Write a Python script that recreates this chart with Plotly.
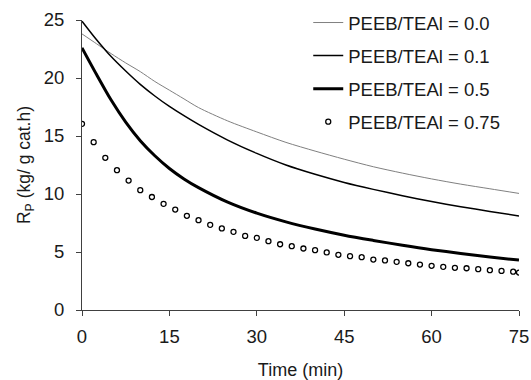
import plotly.graph_objects as go

# ---- data ----
t_lines = [0, 2.5, 5, 7.5, 10, 12.5, 15, 17.5, 20, 25, 30, 35, 40, 45, 50, 55, 60, 65, 70, 75]
r_00 = [23.8, 22.95, 22.1, 21.3, 20.55, 19.7, 18.95, 18.2, 17.45, 16.3, 15.35, 14.45, 13.7, 13.0, 12.35, 11.8, 11.3, 10.85, 10.45, 10.05]
r_01 = [24.9, 23.3, 21.85, 20.6, 19.45, 18.45, 17.55, 16.75, 16.0, 14.65, 13.5, 12.5, 11.7, 11.0, 10.4, 9.85, 9.35, 8.9, 8.5, 8.1]
r_05 = [22.6, 20.3, 18.1, 16.2, 14.6, 13.3, 12.2, 11.3, 10.55, 9.3, 8.35, 7.6, 6.98, 6.45, 6.0, 5.58, 5.2, 4.88, 4.57, 4.3]

t_dots = [0, 2, 4, 6, 8, 10, 12, 14, 16, 18, 20, 22, 24, 26, 28, 30, 32, 34, 36, 38,
          40, 42, 44, 46, 48, 50, 52, 54, 56, 58, 60, 62, 64, 66, 68, 70, 72, 74, 75]
r_075 = [16.05, 14.47, 13.12, 12.05, 11.16, 10.33, 9.74, 9.15, 8.66, 8.12, 7.74, 7.34, 7.03, 6.74, 6.39, 6.22,
         5.93, 5.67, 5.5, 5.3, 5.16, 4.96, 4.76, 4.64, 4.55, 4.35, 4.27, 4.15, 4.03, 3.92, 3.81, 3.72,
         3.64, 3.6, 3.52, 3.43, 3.37, 3.3, 3.23]

names = ["PEEB/TEAl = 0.0", "PEEB/TEAl = 0.1", "PEEB/TEAl = 0.5", "PEEB/TEAl = 0.75"]
x_ticks = [0, 15, 30, 45, 60, 75]
y_ticks = [0, 5, 10, 15, 20, 25]

FONT = "Liberation Sans, Arial, sans-serif"
AX = "#404040"
TXT = "#1a1a1a"

fig = go.Figure()
fig.add_trace(go.Scatter(x=t_lines, y=r_00, mode="lines", name=names[0], legendgroup="a",
                         line=dict(color="#808080", width=1, shape="spline", smoothing=0.8)))
fig.add_trace(go.Scatter(x=t_lines, y=r_01, mode="lines", name=names[1], legendgroup="b",
                         line=dict(color="black", width=1.5, shape="spline", smoothing=0.8)))
fig.add_trace(go.Scatter(x=t_lines, y=r_05, mode="lines", name=names[2], legendgroup="c",
                         line=dict(color="black", width=3, shape="spline", smoothing=0.8)))
fig.add_trace(go.Scatter(x=t_dots, y=r_075, mode="markers", name=names[3], legendgroup="d",
                         marker=dict(symbol="circle-open", size=5, color="black", line=dict(width=1.3))))

axis_common = dict(showgrid=False, zeroline=False, showline=True, linecolor=AX, linewidth=1,
                   tickcolor=AX, ticklen=5, tickwidth=1, automargin=False)

ML, MR, MT, MB = 81.5, 12, 20, 70
plot_w = 531 - ML - MR
plot_h = 380 - MT - MB

fig.update_layout(
    width=531, height=380,
    margin=dict(l=ML, r=MR, t=MT, b=MB, autoexpand=False),
    paper_bgcolor="white", plot_bgcolor="white",
    font=dict(family=FONT, size=17, color=TXT),
    showlegend=True,
    legend=dict(x=(308 - ML) / plot_w, y=1 + 16 / plot_h, yanchor="top",
                font=dict(size=18.5, color=TXT),
                bgcolor="rgba(0,0,0,0)", traceorder="grouped", tracegroupgap=6,
                itemwidth=30),
    xaxis=dict(range=[0, 75], tickvals=x_ticks, ticks="outside",
               title=dict(text="Time (min)", font=dict(size=18), standoff=22),
               ticklabelstandoff=5, tickfont=dict(size=18.5), **axis_common),
    yaxis=dict(range=[0, 25], tickvals=y_ticks, ticks="outside",
               title=dict(text="R<sub>P</sub> (kg/ g cat.h)", font=dict(size=17.5), standoff=8),
               ticklabelstandoff=8, tickfont=dict(size=18.5), **axis_common),
    xaxis2=dict(range=[0, 75], tickvals=x_ticks, ticks="inside", overlaying="x", anchor="y",
                showticklabels=False, **axis_common),
    yaxis2=dict(range=[0, 25], tickvals=y_ticks, ticks="inside", overlaying="y", anchor="x",
                showticklabels=False, **axis_common),
)

fig.write_html("out.html")
